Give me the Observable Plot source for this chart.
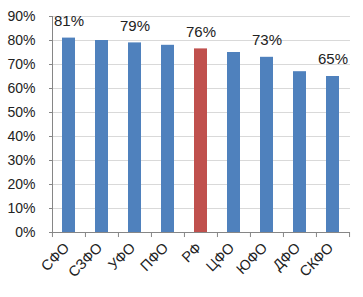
<!DOCTYPE html>
<html><head><meta charset="utf-8">
<script src="https://cdn.jsdelivr.net/npm/d3@7"></script>
<script src="https://cdn.jsdelivr.net/npm/@observablehq/plot@0.6"></script>
<style>body{margin:0;background:#fff}</style>
</head><body><div id="chart"></div>
<script>
const categories = ["СФО","СЗФО","УФО","ПФО","РФ","ЦФО","ЮФО","ДФО","СКФО"];
const values = [0.81,0.80,0.79,0.78,0.765,0.75,0.73,0.67,0.65];
const highlight = "РФ";
const labelCats = ["СФО","УФО","РФ","ЮФО","СКФО"];
const labelTexts = ["81%","79%","76%","73%","65%"];
const yTicks = [0,0.1,0.2,0.3,0.4,0.5,0.6,0.7,0.8,0.9];

const data = categories.map((c,i)=>({cat:c, v:values[i]}));
const labels = labelCats.map((c,i)=>({cat:c, v:values[categories.indexOf(c)], t:labelTexts[i]}));

const W = 363, H = 297, mL = 52, mR = 13;
const step = (W - mL - mR) / categories.length;

const chart = Plot.plot({
  width: W, height: H,
  marginLeft: mL, marginRight: mR, marginTop: 16, marginBottom: 65,
  style: {fontFamily: "Liberation Sans, Arial, sans-serif", fontSize: "14px", color: "#222", background: "#fff"},
  x: {domain: categories, paddingInner: 0.6, paddingOuter: 0.3, label: null},
  y: {domain: [0, 0.9], label: null},
  marks: [
    Plot.gridY(yTicks, {stroke: "#d9d9d9", strokeOpacity: 1}),
    Plot.barY(data, {x: "cat", y: "v", fill: d => d.cat === highlight ? "#C0504D" : "#4F81BD"}),
    Plot.ruleY([0], {stroke: "#868686"}),
    Plot.frame({anchor: "left", stroke: "#868686"}),
    Plot.ruleX(categories, {x: d => d, y1: 0, y2: -0.021, dx: -step/2, stroke: "#868686"}),
    Plot.ruleX(categories.slice(-1), {x: d => d, y1: 0, y2: -0.021, dx: step/2, stroke: "#868686"}),
    Plot.axisY(yTicks, {tickFormat: d3.format(".0%"), tickSize: 3, tickPadding: 14, stroke: "#868686", fontSize: 14, fill: "#222"}),
    Plot.axisX({tickSize: 0, tickRotate: -45, tickPadding: 13, dx: -2, fontSize: 14.5, fill: "#222"}),
    Plot.text(labels, {x: "cat", y: "v", text: "t", dy: -17, fontSize: 15, fill: "#222"})
  ]
});
document.getElementById("chart").appendChild(chart);
</script>
</body></html>
